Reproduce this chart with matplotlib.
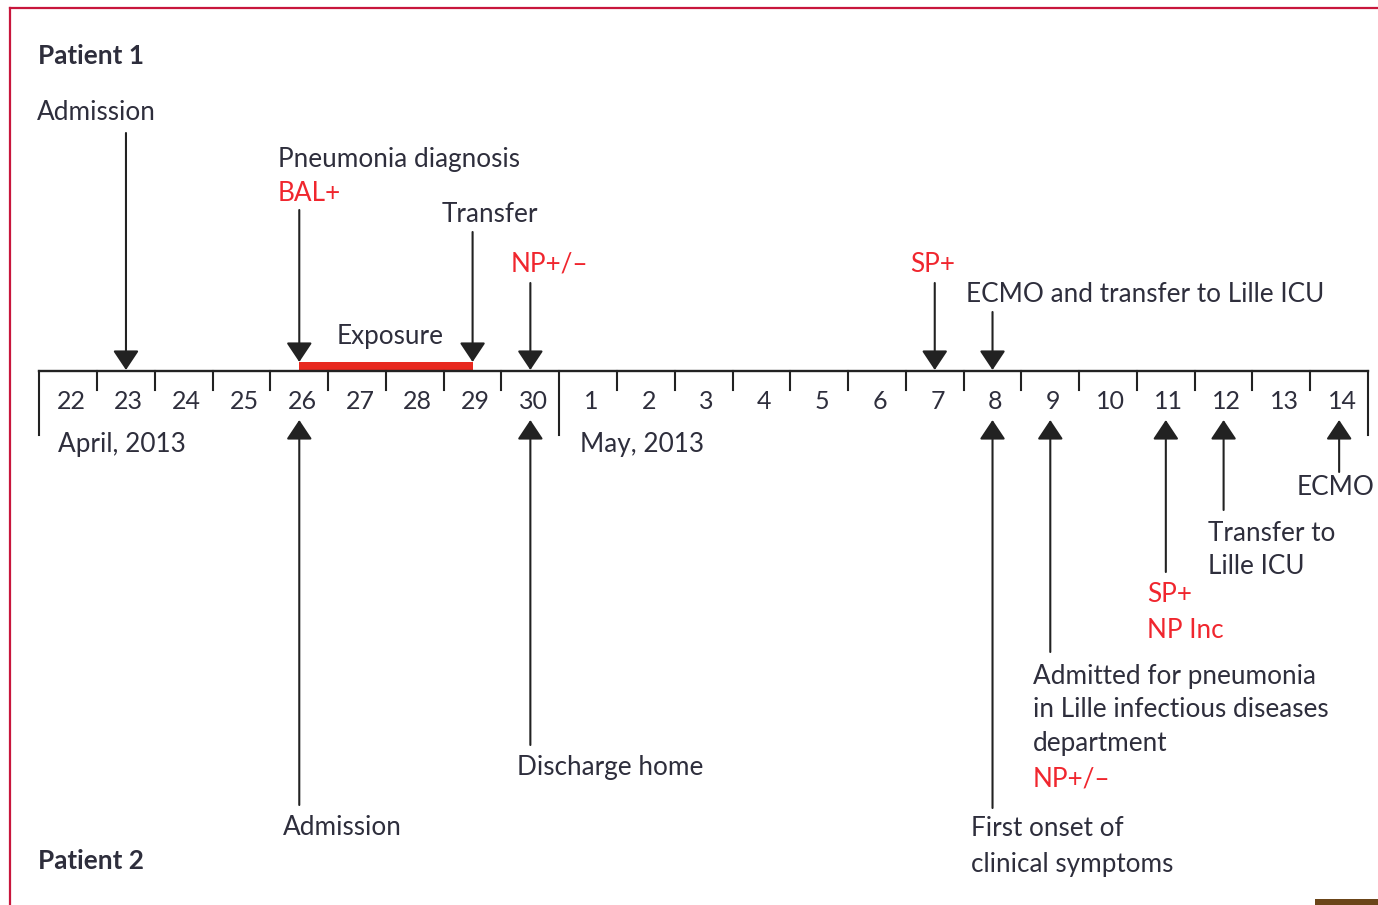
import matplotlib
matplotlib.use("Agg")
import matplotlib.pyplot as plt
from matplotlib.patches import Rectangle

plt.rcParams["font.family"] = ["Lato", "DejaVu Sans"]

# ---------- data ----------
april_days = [22, 23, 24, 25, 26, 27, 28, 29, 30]
may_days = [1, 2, 3, 4, 5, 6, 7, 8, 9, 10, 11, 12, 13, 14]

# patient 1 (above the timeline, arrows pointing down)
p1_dates = [("April", 23), ("April", 26), ("April", 29), ("April", 30), ("May", 7), ("May", 8)]
p1_tail_y = [133, 210, 232, 283, 283, 312]
p1_tip_y = [370, 362, 362, 370, 370, 370]
exposure = [("April", 26), ("April", 29)]

# patient 2 (below the timeline, arrows pointing up)
p2_dates = [("April", 26), ("April", 30), ("May", 8), ("May", 9), ("May", 11), ("May", 12), ("May", 14)]
p2_tail_y = [805, 745, 808, 652, 572, 510, 472]

INK = "#222222"
TXT = "#2e2e3c"
RED = "#f0262e"
BAR = "#e8291f"
FS = 18.8
FS_DAY = 18

W, H = 1378, 905
X0, DX = 68.2, 57.77          # pixel of first day centre, pixels per day
AXIS_Y = 371

fig = plt.figure(figsize=(W / 100, H / 100), dpi=100)
ax = fig.add_axes([0, 0, 1, 1])
ax.set_xlim(-X0 / DX, (W - X0) / DX)
ax.set_ylim(H, 0)
ax.axis("off")

timeline = [("April", d) for d in april_days] + [("May", d) for d in may_days]
def idx(date):
    return timeline.index(date)
def px(x):
    return (x - X0) / DX

# ---------- timeline ----------
n = len(timeline)
ax.plot([-0.5, n - 0.5], [AXIS_Y, AXIS_Y], color=INK, lw=1.7, solid_capstyle="projecting")
for k in range(n + 1):
    b = k - 0.5
    tall = k in (0, len(april_days), n)
    ax.plot([b, b], [AXIS_Y, 435 if tall else 390], color=INK, lw=1.5)
for i, (m, d) in enumerate(timeline):
    ax.text(i + 0.05, 401, str(d), ha="center", va="center", fontsize=FS_DAY, color=TXT)

ax.add_patch(Rectangle((idx(exposure[0]), 362), idx(exposure[1]) - idx(exposure[0]), 9,
                       color=BAR, lw=0))

arrow = dict(arrowstyle="-|>,head_length=0.6,head_width=0.4", mutation_scale=20,
             lw=1.5, color=INK, shrinkA=0, shrinkB=0)
for dt, tail, tip in zip(p1_dates, p1_tail_y, p1_tip_y):
    x = idx(dt)
    ax.annotate("", xy=(x, tip), xytext=(x, tail), arrowprops=arrow)
for dt, tail in zip(p2_dates, p2_tail_y):
    x = idx(dt)
    ax.annotate("", xy=(x, 420), xytext=(x, tail), arrowprops=arrow)

# ---------- labels ----------
labels = [
    (38, 56, "Patient 1", TXT, "bold"),
    (37, 113, "Admission", TXT, "normal"),
    (278, 160, "Pneumonia diagnosis", TXT, "normal"),
    (278, 193, "BAL+", RED, "normal"),
    (442, 214, "Transfer", TXT, "normal"),
    (511, 264, "NP+/\u2013", RED, "normal"),
    (910, 264, "SP+", RED, "normal"),
    (966, 294, "ECMO and transfer to Lille ICU", TXT, "normal"),
    (337, 336, "Exposure", TXT, "normal"),
    (58, 444, "April, 2013", TXT, "normal"),
    (580, 444, "May, 2013", TXT, "normal"),
    (1297, 487, "ECMO", TXT, "normal"),
    (1208, 533, "Transfer to", TXT, "normal"),
    (1208, 566, "Lille ICU", TXT, "normal"),
    (1147, 594, "SP+", RED, "normal"),
    (1147, 630, "NP Inc", RED, "normal"),
    (1033, 676, "Admitted for pneumonia", TXT, "normal"),
    (1033, 709, "in Lille infectious diseases", TXT, "normal"),
    (1033, 743, "department", TXT, "normal"),
    (1033, 779, "NP+/\u2013", RED, "normal"),
    (517, 767, "Discharge home", TXT, "normal"),
    (283, 827, "Admission", TXT, "normal"),
    (971, 828, "First onset of", TXT, "normal"),
    (971, 864, "clinical symptoms", TXT, "normal"),
    (38, 861, "Patient 2", TXT, "bold"),
]
for x, y, s, c, w in labels:
    ax.text(px(x), y, s, ha="left", va="center", fontsize=FS, color=c, fontweight=w)

# ---------- frame ----------
ax.plot([px(10), px(W + 5)], [8, 8], color="#c8163c", lw=1.6)
ax.plot([px(10), px(10)], [8, H + 5], color="#c8163c", lw=1.6)
ax.add_patch(Rectangle((px(1315), 899), (W - 1315) / DX, 8, color="#6b4519", lw=0))

fig.savefig("out.png", dpi=100)
